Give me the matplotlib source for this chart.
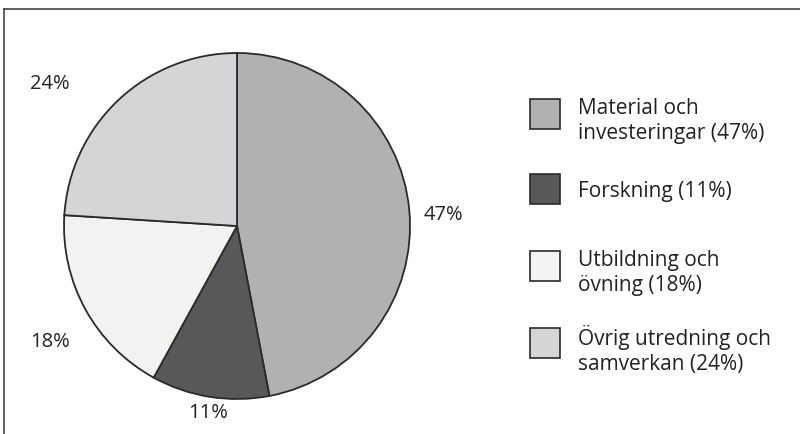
import matplotlib.pyplot as plt
from matplotlib.patches import Rectangle

# data
labels = ["Material och\ninvesteringar (47%)", "Forskning (11%)",
          "Utbildning och\növning (18%)", "Övrig utredning och\nsamverkan (24%)"]
values = [47, 11, 18, 24]
pct_labels = ["47%", "11%", "18%", "24%"]
colors = ["#b1b1b1", "#58585a", "#f2f3f1", "#d5d5d7"]

plt.rcParams['font.family'] = ['Open Sans', 'DejaVu Sans']
txt = "#222222"

fig = plt.figure(figsize=(8, 4.35), dpi=100)
ax = fig.add_axes([0, 0, 1, 1])

H = 435
# frame: top and left only
ax.plot([4, 800], [H - 10, H - 10], color="#444444", lw=1.2)
ax.plot([4, 4], [H - 10, 0], color="#444444", lw=1.2)

cx, cy, r = 237, H - 227, 173
wedges, _ = ax.pie(values, colors=colors, startangle=90, counterclock=False,
                   center=(cx, cy), radius=r, frame=True,
                   wedgeprops=dict(edgecolor="#2a2a2a", linewidth=1.3))
ax.set_xlim(0, 800)
ax.set_ylim(0, 435)
ax.set_aspect('equal')
ax.axis('off')

# percentage labels
pct_pos = [(443, 215), (208, 413), (50, 342), (50, 84)]
for (x, y), t in zip(pct_pos, pct_labels):
    ax.text(x, H - y, t, ha='center', va='center', fontsize=14.5, color=txt)

# legend
box_y = [115, 190, 267, 344]
for y, lab, c in zip(box_y, labels, colors):
    ax.add_patch(Rectangle((530, H - y - 15), 30, 30, facecolor=c,
                           edgecolor="#2a2a2a", lw=1.2))
    dy = 6 if "\n" in lab else 2
    ax.text(578, H - y - dy, lab, ha='left', va='center', fontsize=15,
            color=txt, linespacing=1.2)

fig.savefig("out.png", dpi=100)
